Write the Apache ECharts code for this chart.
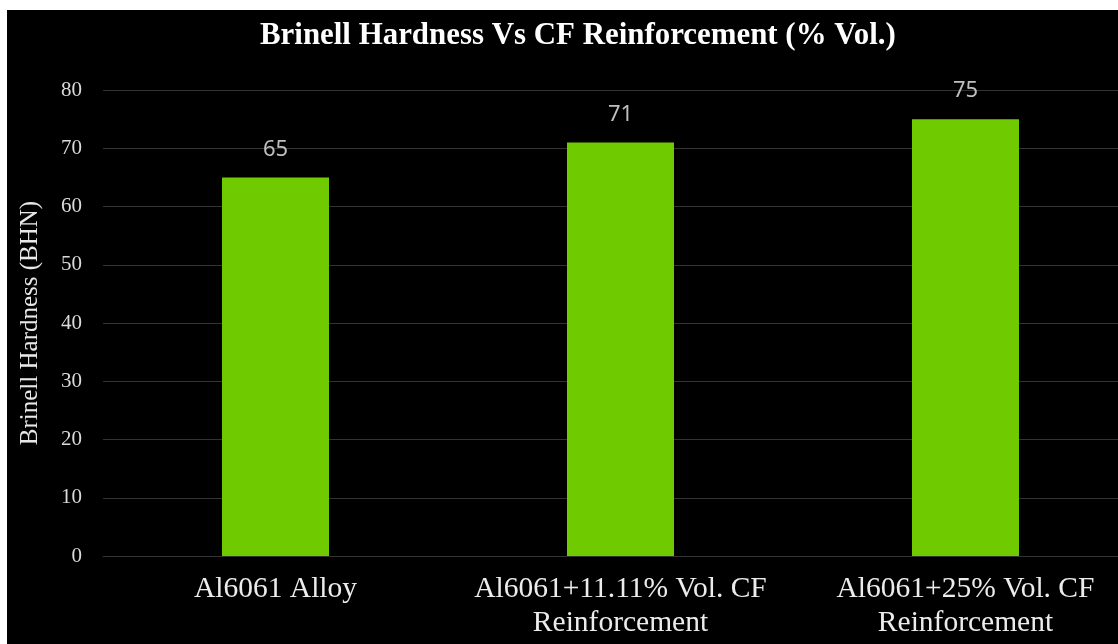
<!DOCTYPE html>
<html>
<head>
<meta charset="utf-8">
<script src="https://cdn.jsdelivr.net/npm/echarts@6/dist/echarts.min.js"></script>
<style>
  html, body { margin: 0; padding: 0; background: #ffffff; width: 1118px; height: 644px; overflow: hidden; }
  #chart { position: absolute; left: 7px; top: 10px; width: 1111px; height: 634px; background: #000000; }
</style>
</head>
<body>
<div id="chart"></div>
<script>
// Specimens tested and their Brinell hardness numbers
const categories = [
  'Al6061 Alloy',
  'Al6061+11.11% Vol. CF\nReinforcement',
  'Al6061+25% Vol. CF\nReinforcement'
];
const hardness = [65, 71, 75];
const yTicks = { min: 0, max: 80, interval: 10 };

const chart = echarts.init(document.getElementById('chart'), null, { renderer: 'canvas' });

chart.setOption({
  backgroundColor: '#000000',
  animation: false,
  title: {
    text: 'Brinell Hardness Vs CF Reinforcement (% Vol.)',
    left: 248,
    top: 6,
    textStyle: {
      color: '#ffffff',
      fontFamily: '"Liberation Serif", "Times New Roman", serif',
      fontWeight: 'bold',
      fontSize: 30.9
    }
  },
  grid: {
    left: 96, right: -20, top: 80, bottom: 88,
    containLabel: false,
    outerBoundsMode: 'none'
  },
  xAxis: {
    type: 'category',
    data: categories,
    axisLine: { show: true, lineStyle: { color: '#333333', width: 1 } },
    axisTick: { show: false },
    axisLabel: {
      color: '#ececec',
      fontFamily: '"Liberation Serif", "Times New Roman", serif',
      fontSize: 29.5,
      lineHeight: 34,
      margin: 16,
      interval: 0
    }
  },
  yAxis: {
    type: 'value',
    min: yTicks.min,
    max: yTicks.max,
    interval: yTicks.interval,
    name: 'Brinell Hardness (BHN)',
    nameLocation: 'middle',
    nameRotate: 90,
    nameGap: 60,
    nameTextStyle: {
      color: '#e8e8e8',
      fontFamily: '"Liberation Serif", "Times New Roman", serif',
      fontSize: 25
    },
    axisLine: { show: false },
    axisTick: { show: false },
    axisLabel: {
      color: '#dadada',
      fontFamily: '"Liberation Serif", "Times New Roman", serif',
      fontSize: 21,
      margin: 21
    },
    splitLine: { lineStyle: { color: '#333333', width: 1 } }
  },
  series: [{
    type: 'bar',
    data: hardness,
    barWidth: 107,
    itemStyle: { color: '#6fcb00' },
    label: {
      show: true,
      position: 'top',
      distance: 17,
      color: '#bfbfbf',
      fontFamily: '"Noto Sans", "Open Sans", sans-serif',
      fontSize: 22
    }
  }]
});
</script>
</body>
</html>
